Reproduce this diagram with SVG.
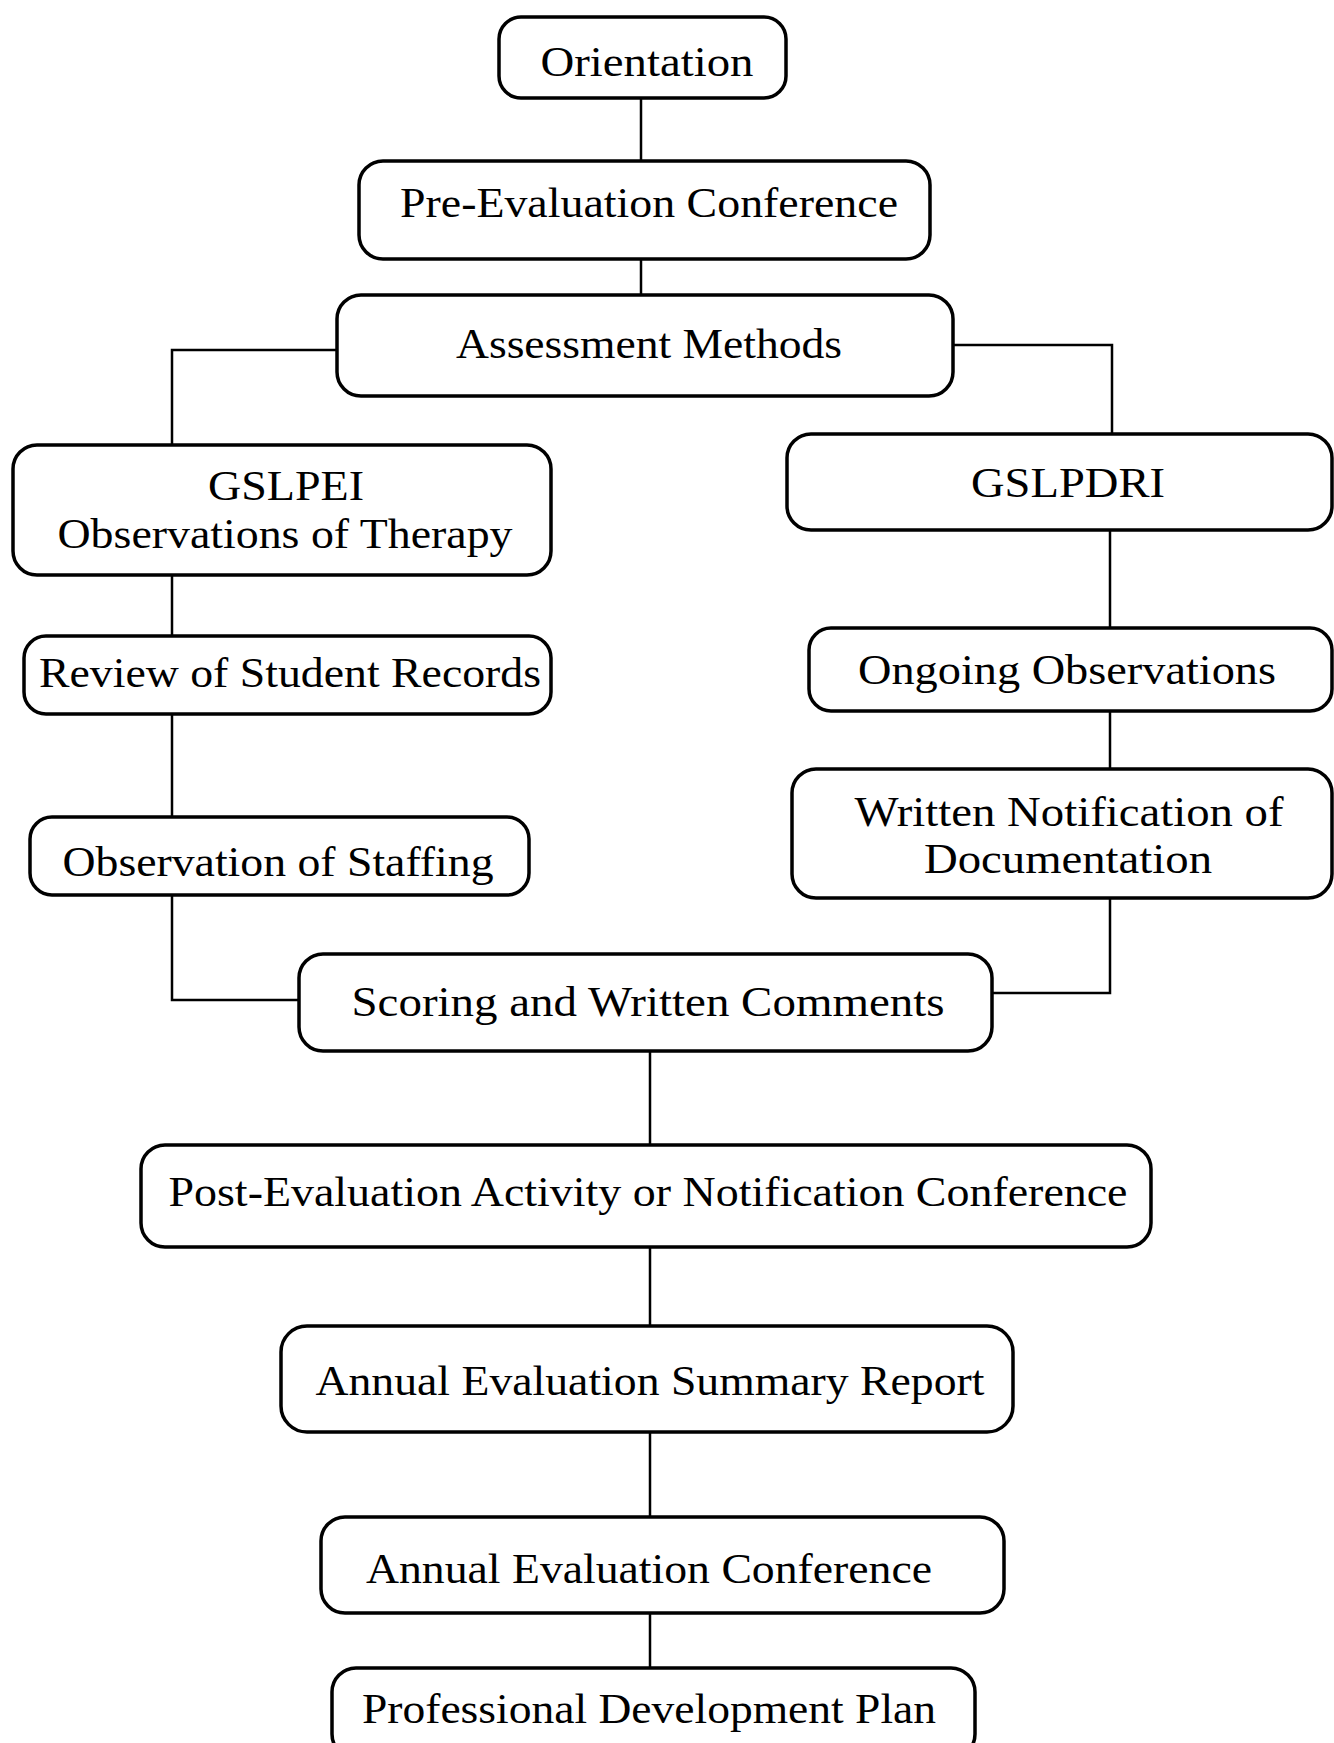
<svg xmlns="http://www.w3.org/2000/svg" width="1334" height="1743" viewBox="0 0 1334 1743">
<style>
.box{fill:#fff;stroke:#000;stroke-width:3.5}
.t{font-family:"Liberation Serif","DejaVu Serif",serif;font-size:42px;fill:#000;text-anchor:middle}
.c{fill:none;stroke:#000;stroke-width:2.5}
</style>
<rect width="1334" height="1743" fill="#fff"/>
<g id="connectors">
<path class="c" d="M641 98V161M641 259V295"/>
<path class="c" d="M337 350H172V445M172 575V636M172 714V817M172 895V1000H299"/>
<path class="c" d="M953 345H1112V434M1110 530V628M1110 711V769M1110 898V993H992"/>
<path class="c" d="M650 1051V1145M650 1247V1326M650 1432V1517M650 1613V1668"/>
</g>
<g id="orientation"><rect class="box" x="499" y="17" width="287" height="81" rx="22"/><text class="t" x="647" y="76" textLength="213" lengthAdjust="spacingAndGlyphs">Orientation</text></g>
<g id="pre-evaluation"><rect class="box" x="359" y="161" width="571" height="98" rx="24"/><text class="t" x="649" y="217" textLength="498" lengthAdjust="spacingAndGlyphs">Pre-Evaluation Conference</text></g>
<g id="assessment"><rect class="box" x="337" y="295" width="616" height="101" rx="24"/><text class="t" x="649" y="358" textLength="386" lengthAdjust="spacingAndGlyphs">Assessment Methods</text></g>
<g id="gslpei"><rect class="box" x="13" y="445" width="538" height="130" rx="24"/><text class="t" x="286" y="500" textLength="156" lengthAdjust="spacingAndGlyphs">GSLPEI</text><text class="t" x="285" y="548" textLength="455" lengthAdjust="spacingAndGlyphs">Observations of Therapy</text></g>
<g id="gslpdri"><rect class="box" x="787" y="434" width="545" height="96" rx="24"/><text class="t" x="1068" y="497" textLength="194" lengthAdjust="spacingAndGlyphs">GSLPDRI</text></g>
<g id="review"><rect class="box" x="24" y="636" width="527" height="78" rx="22"/><text class="t" x="290" y="687" textLength="502" lengthAdjust="spacingAndGlyphs">Review of Student Records</text></g>
<g id="ongoing"><rect class="box" x="809" y="628" width="523" height="83" rx="22"/><text class="t" x="1067" y="684" textLength="418" lengthAdjust="spacingAndGlyphs">Ongoing Observations</text></g>
<g id="staffing"><rect class="box" x="30" y="817" width="499" height="78" rx="22"/><text class="t" x="278" y="876" textLength="431" lengthAdjust="spacingAndGlyphs">Observation of Staffing</text></g>
<g id="written"><rect class="box" x="792" y="769" width="540" height="129" rx="24"/><text class="t" x="1069" y="826" textLength="429" lengthAdjust="spacingAndGlyphs">Written Notification of</text><text class="t" x="1068" y="873" textLength="288" lengthAdjust="spacingAndGlyphs">Documentation</text></g>
<g id="scoring"><rect class="box" x="299" y="954" width="693" height="97" rx="24"/><text class="t" x="648" y="1016" textLength="593" lengthAdjust="spacingAndGlyphs">Scoring and Written Comments</text></g>
<g id="post-evaluation"><rect class="box" x="141" y="1145" width="1010" height="102" rx="24"/><text class="t" x="648" y="1206" textLength="959" lengthAdjust="spacingAndGlyphs">Post-Evaluation Activity or Notification Conference</text></g>
<g id="summary"><rect class="box" x="281" y="1326" width="732" height="106" rx="26"/><text class="t" x="650" y="1395" textLength="669" lengthAdjust="spacingAndGlyphs">Annual Evaluation Summary Report</text></g>
<g id="annual-conference"><rect class="box" x="321" y="1517" width="683" height="96" rx="24"/><text class="t" x="649" y="1583" textLength="566" lengthAdjust="spacingAndGlyphs">Annual Evaluation Conference</text></g>
<g id="pdp"><rect class="box" x="332" y="1668" width="643" height="90" rx="24"/><text class="t" x="649" y="1723" textLength="574" lengthAdjust="spacingAndGlyphs">Professional Development Plan</text></g>
</svg>
